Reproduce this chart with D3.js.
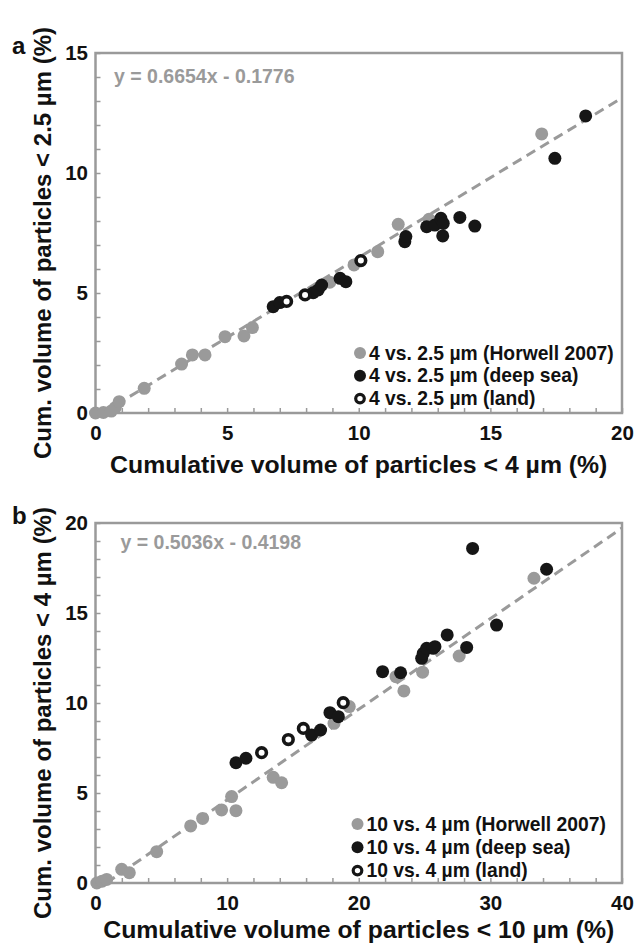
<!DOCTYPE html>
<html><head><meta charset="utf-8">
<script src="https://cdn.jsdelivr.net/npm/d3@7"></script>
<style>
body{margin:0;background:#fff}
svg{display:block}
text{font-family:"Liberation Sans",Arial,Helvetica,sans-serif;font-weight:bold}
</style>
</head><body>
<svg id="c" width="644" height="944"></svg>
<script>
// ---------- Panel a data ----------
const aHorwell = [[0,0],[0.3,0.02],[0.6,0.08],[0.75,0.22],[0.9,0.47],[1.85,1.03],[3.27,2.04],[3.68,2.42],[4.16,2.42],[4.92,3.18],[5.64,3.21],[5.96,3.56],[8.9,5.45],[9.82,6.17],[10.72,6.72],[11.5,7.86],[12.67,8.07],[16.95,11.63]];
const aDeepSea = [[6.75,4.43],[7.0,4.6],[8.27,5.01],[8.46,5.13],[8.59,5.33],[9.29,5.61],[9.51,5.47],[11.75,7.14],[11.79,7.35],[12.58,7.76],[12.89,7.83],[13.12,8.11],[13.21,7.9],[13.19,7.38],[13.84,8.15],[14.41,7.79],[17.45,10.61],[18.62,12.38]];
const aLand = [[7.26,4.65],[7.96,4.92],[10.08,6.35]];
const aFit = [0.6654, -0.1776];
const aXTicks = [0,5,10,15,20];
const aYTicks = [0,5,10,15];
const aLegend = ["4 vs. 2.5 \u00b5m (Horwell 2007)","4 vs. 2.5 \u00b5m (deep sea)","4 vs. 2.5 \u00b5m (land)"];
const aXTitle = "Cumulative volume of particles < 4 \u00b5m (%)";
const aYTitle = "Cum. volume of particles < 2.5 \u00b5m (%)";
const aEq = "y = 0.6654x - 0.1776";

// ---------- Panel b data ----------
const bHorwell = [[0.1,0],[0.5,0.1],[0.85,0.2],[1.99,0.76],[2.57,0.57],[4.65,1.74],[7.23,3.17],[8.14,3.59],[9.58,4.06],[10.67,4.02],[10.34,4.8],[13.5,5.87],[14.14,5.57],[18.12,8.87],[19.28,9.8],[22.83,11.46],[23.43,10.67],[24.85,11.71],[27.63,12.61],[33.31,16.93]];
const bDeepSea = [[10.67,6.68],[11.43,6.93],[16.42,8.22],[17.1,8.5],[17.81,9.46],[18.45,9.24],[21.81,11.74],[23.18,11.68],[24.78,12.48],[24.9,12.76],[25.16,13.04],[25.66,13.04],[25.79,13.13],[26.72,13.78],[28.2,13.09],[28.65,18.59],[30.47,14.33],[34.27,17.43]];
const bLand = [[12.62,7.24],[14.65,7.97],[15.79,8.59],[18.82,10.02]];
const bFit = [0.5036, -0.4198];
const bXTicks = [0,10,20,30,40];
const bYTicks = [0,5,10,15,20];
const bLegend = ["10 vs. 4 \u00b5m (Horwell 2007)","10 vs. 4 \u00b5m (deep sea)","10 vs. 4 \u00b5m (land)"];
const bXTitle = "Cumulative volume of particles < 10 \u00b5m (%)";
const bYTitle = "Cum. volume of particles < 4 \u00b5m (%)";
const bEq = "y = 0.5036x - 0.4198";

const GRAY = "#9a9a9a", BLACK = "#161616", TXT = "#111";
const svg = d3.select("#c");
const L = 95.5, R = 622, H = 360;

function drawPanel(o){
  const g = svg.append("g");
  const x = d3.scaleLinear().domain([0, o.xTicks[o.xTicks.length-1]]).range([L, R]);
  const y = d3.scaleLinear().domain([0, o.yTicks[o.yTicks.length-1]]).range([o.bottom, o.bottom - H]);

  // minor ticks (inward)
  g.append("g").attr("transform",`translate(0,${o.bottom})`)
    .call(d3.axisBottom(x).tickValues(d3.range(0, x.domain()[1]+1e-9, o.xMinor)).tickSize(-5).tickFormat(""))
    .call(s=>{s.select(".domain").remove(); s.selectAll("line").attr("stroke",GRAY).attr("stroke-width",1.5);});
  g.append("g").attr("transform",`translate(${L},0)`)
    .call(d3.axisLeft(y).tickValues(d3.range(0, y.domain()[1]+1e-9, 1)).tickSize(-5).tickFormat(""))
    .call(s=>{s.select(".domain").remove(); s.selectAll("line").attr("stroke",GRAY).attr("stroke-width",1.5);});

  // labels
  g.append("g").attr("transform",`translate(0,${o.bottom})`)
    .call(d3.axisBottom(x).tickValues(o.xTicks).tickSize(0).tickPadding(12))
    .call(s=>{s.select(".domain").remove(); s.selectAll("text").attr("font-size",20.5).attr("fill",TXT).attr("font-family",null);});
  g.append("g").attr("transform",`translate(${L},0)`)
    .call(d3.axisLeft(y).tickValues(o.yTicks).tickSize(0).tickPadding(7.5))
    .call(s=>{s.select(".domain").remove(); s.selectAll("text").attr("font-size",20.5).attr("fill",TXT).attr("font-family",null);});

  // frame
  g.append("rect").attr("x",L).attr("y",o.bottom-H).attr("width",R-L).attr("height",H)
    .attr("fill","none").attr("stroke",GRAY).attr("stroke-width",2.5);

  // fit line
  const x0 = Math.max(0, -o.fit[1]/o.fit[0]);
  const x1 = x.domain()[1];
  g.append("line")
    .attr("x1",x(x0)).attr("y1",y(o.fit[0]*x0+o.fit[1]))
    .attr("x2",x(x1)).attr("y2",y(o.fit[0]*x1+o.fit[1]))
    .attr("stroke",GRAY).attr("stroke-width",3).attr("stroke-dasharray","10,6");

  // points
  g.append("g").selectAll("circle").data(o.horwell).join("circle")
    .attr("cx",d=>x(d[0])).attr("cy",d=>y(d[1])).attr("r",6.5).attr("fill",GRAY);
  g.append("g").selectAll("circle").data(o.deep).join("circle")
    .attr("cx",d=>x(d[0])).attr("cy",d=>y(d[1])).attr("r",6.5).attr("fill",BLACK);
  g.append("g").selectAll("circle").data(o.land).join("circle")
    .attr("cx",d=>x(d[0])).attr("cy",d=>y(d[1])).attr("r",4.8).attr("fill","#fff")
    .attr("stroke",BLACK).attr("stroke-width",3.6);

  // equation
  g.append("text").attr("x",o.eqX).attr("y",o.eqY).attr("font-size",19.5).attr("fill",GRAY).text(o.eq);

  // legend
  const styles = [{fill:GRAY},{fill:BLACK},{fill:"#fff",stroke:BLACK}];
  o.legend.forEach((t,i)=>{
    const cy = o.legY + i*o.legDy;
    const c = g.append("circle").attr("cx",o.legX).attr("cy",cy).attr("fill",styles[i].fill);
    if(styles[i].stroke) c.attr("r",4.3).attr("stroke",BLACK).attr("stroke-width",3.2); else c.attr("r",6);
    g.append("text").attr("x",o.legX+9).attr("y",cy+6.6).attr("font-size",19.3).attr("fill",TXT).text(t);
  });

  // axis titles
  g.append("text").attr("x",(L+R)/2).attr("y",o.bottom+o.xtOff).attr("text-anchor","middle")
    .attr("font-size",24.8).attr("fill",TXT).text(o.xTitle);
  g.append("text").attr("transform",`translate(51,${o.bottom-H/2+10}) rotate(-90)`).attr("text-anchor","middle")
    .attr("font-size",24).attr("fill",TXT).text(o.yTitle);

  // panel letter
  g.append("text").attr("x",12).attr("y",o.bottom-H+1).attr("font-size",24).attr("fill",TXT).text(o.letter);
}

drawPanel({bottom:413, xTicks:aXTicks, yTicks:aYTicks, xMinor:1, horwell:aHorwell, deep:aDeepSea, land:aLand,
  fit:aFit, eq:aEq, eqX:114, eqY:83, legend:aLegend, legX:360, legY:353, legDy:22.8, xtOff:60,
  xTitle:aXTitle, yTitle:aYTitle, letter:"a"});
drawPanel({bottom:883, xTicks:bXTicks, yTicks:bYTicks, xMinor:2, horwell:bHorwell, deep:bDeepSea, land:bLand,
  fit:bFit, eq:bEq, eqX:120.5, eqY:549, legend:bLegend, legX:357.5, legY:824, legDy:23.3, xtOff:55,
  xTitle:bXTitle, yTitle:bYTitle, letter:"b"});
</script>
</body></html>
